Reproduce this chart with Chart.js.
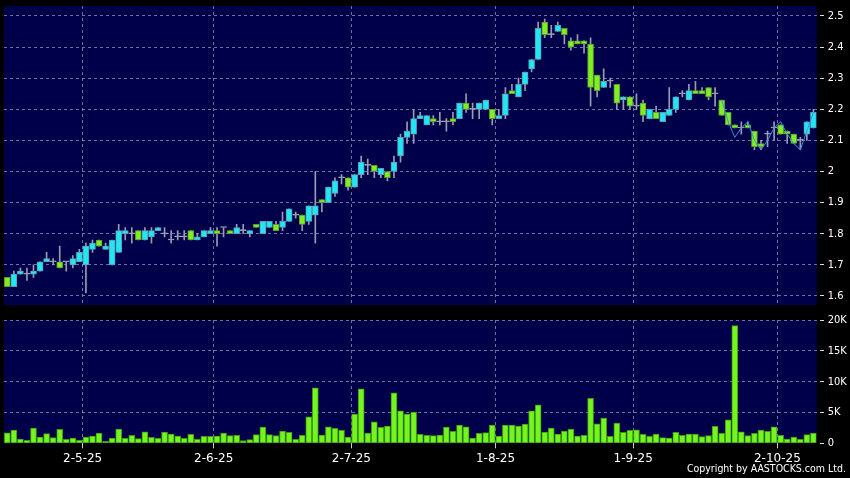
<!DOCTYPE html>
<html>
<head>
<meta charset="utf-8">
<script src="https://cdn.jsdelivr.net/npm/chart.js@4.4.1/dist/chart.umd.min.js"></script>
<style>
  html, body { margin: 0; padding: 0; background: #000; }
  #wrap { position: relative; width: 850px; height: 478px; overflow: hidden; background: #000; }
  canvas { position: absolute; left: 0; }
  #price { top: 0; }
  #vol { top: 310px; }
  #copy { position: absolute; right: 4px; top: 462px; color: #fff; font: 10.5px 'DejaVu Sans Condensed', 'DejaVu Sans', sans-serif; }
</style>
</head>
<body>
<div id="wrap">
  <canvas id="price" width="850" height="310"></canvas>
  <canvas id="vol" width="850" height="168"></canvas>
  <div id="copy">Copyright by AASTOCKS.com Ltd.</div>
</div>
<script>
// ─── Trading days (d-m-yy) ──────────────────────────────────────────────────
const aprDays = [11, 14, 15, 16, 17, 22, 23, 24, 25, 28, 29, 30];
const mayDays = [2, 6, 7, 8, 9, 12, 13, 14, 15, 16, 19, 20, 21, 22, 23, 26, 27, 28, 29, 30];
const junDays = [2, 3, 4, 5, 6, 9, 10, 11, 12, 13, 16, 17, 18, 19, 20, 23, 24, 25, 26, 27, 30];
const julDays = [2, 3, 4, 7, 8, 9, 10, 11, 14, 15, 16, 17, 18, 21, 22, 23, 24, 25, 28, 29, 30, 31];
const augDays = [1, 4, 5, 6, 7, 8, 11, 12, 13, 14, 15, 18, 19, 20, 21, 22, 25, 26, 27, 28, 29];
const sepDays = [1, 2, 3, 4, 5, 8, 9, 10, 11, 12, 15, 16, 17, 18, 19, 22, 23, 24, 25, 26, 29, 30];
const octDays = [2, 3, 6, 8, 9, 10];
const dates = [
  ...aprDays.map(d => `${d}-4-25`), ...mayDays.map(d => `${d}-5-25`),
  ...junDays.map(d => `${d}-6-25`), ...julDays.map(d => `${d}-7-25`),
  ...augDays.map(d => `${d}-8-25`), ...sepDays.map(d => `${d}-9-25`),
  ...octDays.map(d => `${d}-10-25`)
];

// ─── Prices ─────────────────────────────────────────────────────────────────
const opens = [
  1.66, 1.63, 1.67, 1.67, 1.67, 1.68, 1.71, 1.71, 1.71, 1.71, 1.70, 1.71, 1.70, 1.75, 1.78, 1.75,
  1.70, 1.74, 1.80, 1.80, 1.81, 1.78, 1.79, 1.81, 1.80, 1.78, 1.79, 1.79, 1.81, 1.78, 1.79, 1.80,
  1.81, 1.82, 1.81, 1.80, 1.81, 1.80, 1.83, 1.80, 1.82, 1.83, 1.82, 1.84, 1.86, 1.86, 1.84, 1.86,
  1.91, 1.90, 1.93, 1.98, 1.98, 1.95, 1.99, 2.02, 2.02, 1.99, 2.00, 2.00, 2.05, 2.11, 2.12, 2.17,
  2.15, 2.17, 2.16, 2.16, 2.17, 2.17, 2.22, 2.20, 2.20, 2.20, 2.20, 2.17, 2.18, 2.26, 2.24, 2.28,
  2.33, 2.36, 2.48, 2.44, 2.45, 2.46, 2.42, 2.42, 2.42, 2.41, 2.31, 2.27, 2.29, 2.28, 2.23, 2.24,
  2.21, 2.22, 2.17, 2.19, 2.16, 2.18, 2.20, 2.25, 2.23, 2.26, 2.26, 2.27, 2.25, 2.23, 2.19, 2.15,
  2.14, 2.15, 2.13, 2.09, 2.12, 2.14, 2.15, 2.13, 2.12, 2.10, 2.12, 2.14
];
const highs = [
  1.66, 1.68, 1.69, 1.69, 1.70, 1.71, 1.74, 1.72, 1.76, 1.71, 1.73, 1.75, 1.77, 1.78, 1.78, 1.77,
  1.78, 1.83, 1.82, 1.82, 1.81, 1.82, 1.82, 1.82, 1.82, 1.81, 1.81, 1.81, 1.81, 1.80, 1.81, 1.82,
  1.82, 1.82, 1.81, 1.83, 1.83, 1.81, 1.83, 1.84, 1.84, 1.84, 1.87, 1.88, 1.87, 1.86, 1.89, 2.00,
  1.91, 1.95, 1.98, 1.99, 1.98, 1.99, 2.05, 2.04, 2.02, 2.01, 2.00, 2.05, 2.12, 2.16, 2.20, 2.19,
  2.18, 2.18, 2.19, 2.17, 2.19, 2.22, 2.25, 2.22, 2.22, 2.23, 2.20, 2.20, 2.27, 2.28, 2.30, 2.32,
  2.36, 2.48, 2.49, 2.47, 2.48, 2.46, 2.43, 2.44, 2.42, 2.43, 2.31, 2.33, 2.30, 2.28, 2.24, 2.24,
  2.25, 2.23, 2.20, 2.21, 2.19, 2.27, 2.24, 2.26, 2.28, 2.29, 2.27, 2.27, 2.27, 2.23, 2.19, 2.15,
  2.16, 2.16, 2.13, 2.10, 2.13, 2.16, 2.15, 2.13, 2.12, 2.11, 2.16, 2.20
];
const lows = [
  1.63, 1.63, 1.67, 1.65, 1.66, 1.68, 1.71, 1.70, 1.69, 1.68, 1.69, 1.71, 1.61, 1.74, 1.76, 1.75,
  1.70, 1.74, 1.78, 1.77, 1.78, 1.78, 1.77, 1.81, 1.79, 1.77, 1.78, 1.78, 1.78, 1.78, 1.79, 1.80,
  1.76, 1.79, 1.80, 1.80, 1.80, 1.79, 1.82, 1.80, 1.82, 1.81, 1.81, 1.84, 1.85, 1.81, 1.83, 1.77,
  1.87, 1.90, 1.92, 1.96, 1.94, 1.95, 1.98, 1.99, 1.98, 1.98, 1.97, 1.98, 2.03, 2.09, 2.09, 2.17,
  2.15, 2.15, 2.15, 2.13, 2.15, 2.17, 2.19, 2.17, 2.17, 2.20, 2.15, 2.17, 2.17, 2.25, 2.24, 2.26,
  2.32, 2.36, 2.43, 2.43, 2.45, 2.41, 2.39, 2.41, 2.38, 2.21, 2.24, 2.27, 2.27, 2.20, 2.20, 2.20,
  2.20, 2.16, 2.17, 2.17, 2.16, 2.18, 2.19, 2.24, 2.23, 2.25, 2.25, 2.23, 2.21, 2.18, 2.15, 2.14,
  2.12, 2.14, 2.07, 2.07, 2.08, 2.10, 2.12, 2.09, 2.09, 2.07, 2.10, 2.14
];
const closes = [
  1.63, 1.67, 1.68, 1.67, 1.68, 1.71, 1.72, 1.71, 1.69, 1.71, 1.72, 1.74, 1.76, 1.77, 1.76, 1.76,
  1.78, 1.81, 1.81, 1.80, 1.78, 1.81, 1.81, 1.82, 1.80, 1.78, 1.79, 1.79, 1.78, 1.79, 1.81, 1.81,
  1.80, 1.82, 1.80, 1.82, 1.81, 1.81, 1.82, 1.84, 1.84, 1.81, 1.84, 1.88, 1.86, 1.83, 1.89, 1.89,
  1.90, 1.95, 1.97, 1.98, 1.95, 1.99, 2.03, 2.02, 2.00, 2.01, 1.98, 2.03, 2.11, 2.13, 2.17, 2.18,
  2.18, 2.16, 2.16, 2.16, 2.16, 2.22, 2.20, 2.20, 2.22, 2.23, 2.17, 2.18, 2.25, 2.25, 2.28, 2.32,
  2.36, 2.46, 2.44, 2.44, 2.47, 2.44, 2.40, 2.41, 2.41, 2.27, 2.26, 2.29, 2.29, 2.22, 2.24, 2.21,
  2.21, 2.18, 2.20, 2.17, 2.19, 2.20, 2.24, 2.25, 2.26, 2.25, 2.25, 2.24, 2.25, 2.18, 2.15, 2.14,
  2.14, 2.14, 2.08, 2.08, 2.12, 2.14, 2.12, 2.12, 2.09, 2.10, 2.16, 2.19
];
// thin overlay line on the last weeks
const overlay = [
  ...Array(109).fill(null),
  2.23, 2.16, 2.11, 2.14, 2.16, 2.10, 2.07, 2.10, 2.14, 2.16, 2.12, 2.09, 2.07, 2.13, 2.19
];
const priceTicks = [1.6, 1.7, 1.8, 1.9, 2.0, 2.1, 2.2, 2.3, 2.4, 2.5];

// ─── Volume ─────────────────────────────────────────────────────────────────
const volumes = [
  1700, 2150, 700, 480, 2470, 1020, 1560, 910, 2260, 650, 860, 480, 1020, 1180, 1670, 320,
  860, 2310, 810, 1290, 750, 1880, 970, 810, 1830, 1510, 1180, 810, 1450, 650, 1130, 1130,
  1180, 1670, 1240, 1290, 430, 590, 1400, 2630, 1400, 1240, 1990, 1770, 650, 1290, 4300, 8980,
  1340, 2690, 2420, 2100, 1020, 4730, 8820, 1670, 3490, 2580, 2800, 8170, 5270, 4730, 5050, 1450,
  1290, 1240, 1340, 2630, 1940, 2960, 2690, 860, 1610, 1720, 2960, 1180, 2960, 2960, 2800, 3120,
  5270, 6240, 1830, 2470, 1510, 1990, 2310, 1180, 1290, 7310, 3170, 4090, 1130, 3280, 1770, 2100,
  2200, 1450, 1130, 1510, 910, 860, 1770, 1290, 1510, 1510, 1080, 1240, 2740, 1610, 3820, 19090,
  1880, 1240, 1610, 2150, 1940, 2690, 1290, 700, 1020, 650, 1400, 1670
];
const volTicks = [0, 5000, 10000, 15000, 20000];

// ─── Style ──────────────────────────────────────────────────────────────────
const PLOT_BG = '#00004a';
const GRID = 'rgba(150,150,190,0.75)';
const WICK = '#9a9ab0';
const UP = '#1fe8f4', UP_EDGE = '#5e9cb5';
const DOWN = '#80ee22', DOWN_EDGE = '#5a9a30';
const FLAT = '#a8a8b8';
const AXIS_W = 33.3;
const Y_FONT = { family: "'DejaVu Sans Condensed', 'DejaVu Sans', sans-serif", size: 11 };

Chart.defaults.font.family = "'DejaVu Sans', sans-serif";
Chart.defaults.font.size = 12;
Chart.defaults.color = '#fff';

const monthOf = s => s.split('-')[1];
const monthStart = i => i > 0 && i < dates.length && monthOf(dates[i]) !== monthOf(dates[i - 1]);

const plotBg = {
  id: 'plotBg',
  beforeDraw(chart) {
    const { ctx, chartArea: a } = chart;
    ctx.save();
    ctx.fillStyle = PLOT_BG;
    ctx.fillRect(a.left, a.top, a.right - a.left, a.bottom - a.top);
    ctx.restore();
  }
};

// fixed-width right axis, no extra room for the end labels
const fitRightAxis = s => { s.width = AXIS_W; s.paddingTop = 0; s.paddingBottom = 0; };

const bodyFill = i => closes[i] > opens[i] ? UP : closes[i] < opens[i] ? DOWN : FLAT;
const bodyEdge = i => closes[i] > opens[i] ? UP_EDGE : closes[i] < opens[i] ? DOWN_EDGE : FLAT;

// ─── Price chart ────────────────────────────────────────────────────────────
new Chart(document.getElementById('price'), {
  type: 'bar',
  data: {
    labels: dates,
    datasets: [
      { label: 'range', data: lows.map((l, i) => [l, highs[i]]), backgroundColor: WICK,
        barThickness: 1, grouped: false, order: 3 },
      { label: 'body', data: opens.map((o, i) => [o, closes[i]]),
        backgroundColor: c => bodyFill(c.dataIndex), borderColor: c => bodyEdge(c.dataIndex),
        borderWidth: 1, borderSkipped: false, barThickness: 6, minBarLength: 1, grouped: false, order: 2 },
      { type: 'line', label: 'line', data: overlay, borderColor: '#3f8fe0', borderWidth: 1,
        pointRadius: 0, order: 1 }
    ]
  },
  options: {
    responsive: false, animation: false, events: [],
    layout: { padding: { left: 4, top: 6, right: 0, bottom: 5 } },
    plugins: { legend: { display: false }, tooltip: { enabled: false } },
    scales: {
      x: {
        offset: true,
        ticks: { display: false },
        grid: { offset: true, drawTicks: false, color: c => monthStart(c.index) ? GRID : 'transparent' },
        border: { display: false, dash: [3, 3] }
      },
      y: {
        position: 'right', min: 1.571, max: 2.532,
        afterBuildTicks: s => { s.ticks = priceTicks.map(v => ({ value: v })); },
        afterFit: fitRightAxis,
        ticks: { padding: 3, font: Y_FONT, callback: v => String(Number(v.toFixed(1))) },
        grid: { color: GRID, tickColor: '#ddd', tickLength: 8, tickBorderDash: [4, 50], tickBorderDashOffset: -3 },
        border: { display: false, dash: [3, 3] }
      }
    }
  },
  plugins: [plotBg]
});

// ─── Volume chart ───────────────────────────────────────────────────────────
new Chart(document.getElementById('vol'), {
  type: 'bar',
  data: {
    labels: dates,
    datasets: [
      { label: 'volume', data: volumes, backgroundColor: '#74f51e', borderColor: '#3f9a12',
        borderWidth: 1, borderSkipped: false, barThickness: 6 }
    ]
  },
  options: {
    responsive: false, animation: false, events: [],
    layout: { padding: { left: 4, top: 10, right: 0, bottom: 0 } },
    plugins: { legend: { display: false }, tooltip: { enabled: false } },
    scales: {
      x: {
        offset: true,
        afterFit: s => { s.height = 168 - 133.3; },
        ticks: {
          autoSkip: false, maxRotation: 0, minRotation: 0, padding: 3, labelOffset: -3.3,
          callback: (v, i) => monthStart(i) ? dates[i] : ''
        },
        grid: {
          offset: true, tickLength: 5, tickBorderDash: [],
          color: c => monthStart(c.index) ? GRID : 'transparent',
          tickColor: c => monthStart(c.index) ? '#ccc' : 'transparent'
        },
        border: { display: false, dash: [3, 3] }
      },
      y: {
        position: 'right', min: 0, max: 20000,
        afterBuildTicks: s => { s.ticks = volTicks.map(v => ({ value: v })); },
        afterFit: fitRightAxis,
        ticks: { padding: 3, font: Y_FONT, callback: v => v === 0 ? '0' : (v / 1000) + 'K' },
        grid: { color: c => c.tick && c.tick.value === 0 ? 'transparent' : GRID,
                tickColor: '#ddd', tickLength: 8, tickBorderDash: [4, 50], tickBorderDashOffset: -3 },
        border: { display: false, dash: [3, 3] }
      }
    }
  },
  plugins: [plotBg]
});
</script>
</body>
</html>
